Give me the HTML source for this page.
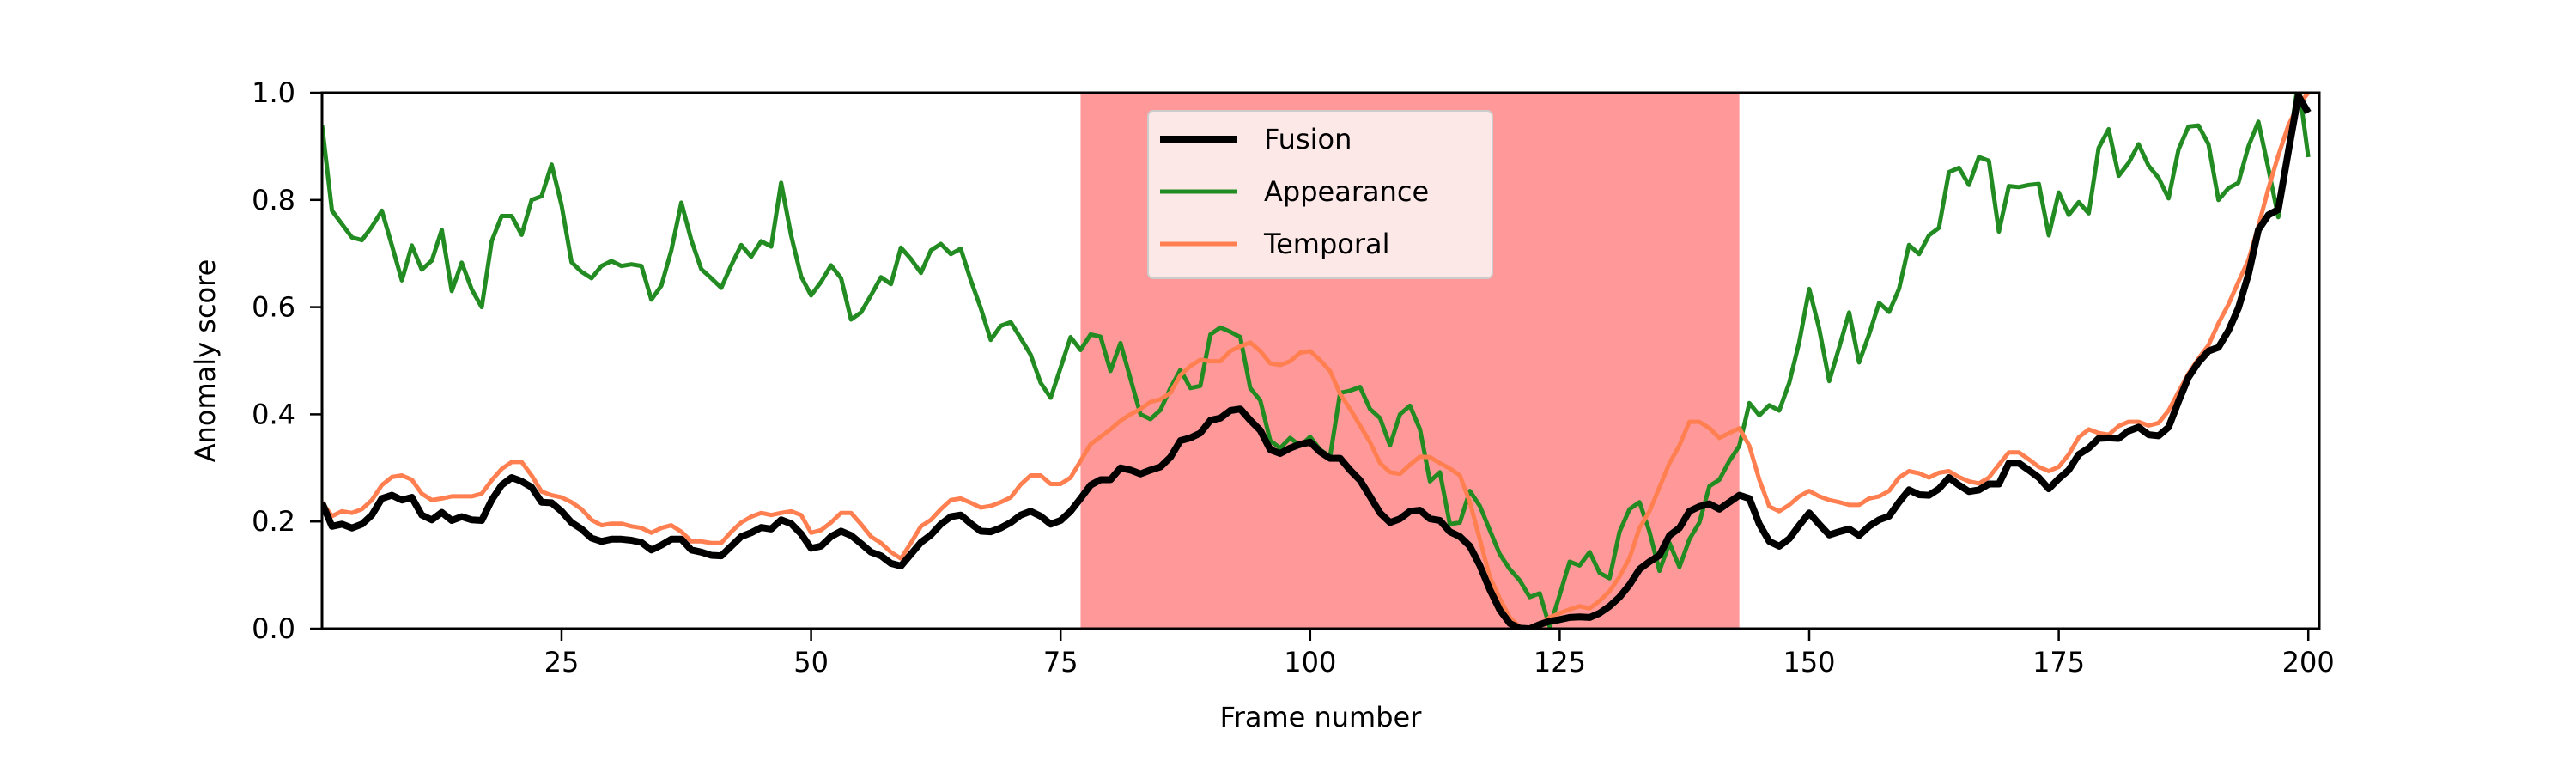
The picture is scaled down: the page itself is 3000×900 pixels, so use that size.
<!DOCTYPE html>
<html><head><meta charset="utf-8">
<style>
html,body{margin:0;padding:0;background:#fff;}
svg{display:block;font-family:"DejaVu Sans","Liberation Sans",sans-serif;}
</style></head>
<body>
<svg id="chart" width="3000" height="900" viewBox="0 0 3000 900" xmlns="http://www.w3.org/2000/svg"></svg>
<script>
const fusion=[0.235,0.191,0.195,0.188,0.195,0.212,0.243,0.249,0.24,0.245,0.212,0.203,0.217,0.202,0.209,0.203,0.202,0.24,0.268,0.282,0.275,0.264,0.236,0.235,0.219,0.198,0.186,0.169,0.163,0.167,0.167,0.165,0.161,0.147,0.156,0.167,0.167,0.147,0.143,0.137,0.136,0.154,0.172,0.179,0.189,0.186,0.203,0.196,0.177,0.15,0.154,0.172,0.182,0.174,0.159,0.143,0.136,0.122,0.117,0.139,0.161,0.175,0.195,0.209,0.212,0.196,0.182,0.181,0.188,0.198,0.212,0.219,0.21,0.195,0.202,0.219,0.243,0.268,0.278,0.278,0.3,0.296,0.289,0.296,0.302,0.32,0.351,0.356,0.365,0.389,0.393,0.407,0.41,0.389,0.37,0.334,0.327,0.337,0.344,0.348,0.33,0.318,0.318,0.296,0.277,0.247,0.216,0.198,0.205,0.219,0.221,0.205,0.202,0.181,0.172,0.154,0.118,0.073,0.035,0.01,0.001,0.0,0.008,0.014,0.017,0.021,0.022,0.021,0.029,0.042,0.059,0.082,0.111,0.125,0.137,0.174,0.188,0.219,0.228,0.233,0.223,0.236,0.249,0.243,0.195,0.163,0.154,0.168,0.193,0.216,0.195,0.175,0.181,0.186,0.174,0.191,0.203,0.21,0.236,0.259,0.25,0.249,0.261,0.282,0.268,0.256,0.259,0.27,0.27,0.309,0.309,0.296,0.282,0.261,0.28,0.296,0.325,0.337,0.355,0.356,0.355,0.369,0.376,0.362,0.36,0.376,0.424,0.469,0.497,0.518,0.525,0.556,0.598,0.661,0.744,0.772,0.782,0.89,0.994,0.963];
const appearance=[0.94,0.78,0.755,0.73,0.725,0.75,0.78,0.715,0.65,0.715,0.67,0.687,0.744,0.63,0.683,0.633,0.6,0.723,0.77,0.77,0.735,0.8,0.807,0.866,0.79,0.684,0.666,0.654,0.677,0.686,0.677,0.68,0.677,0.614,0.64,0.706,0.795,0.725,0.671,0.654,0.636,0.678,0.716,0.694,0.723,0.713,0.832,0.734,0.657,0.622,0.647,0.678,0.654,0.577,0.59,0.622,0.656,0.643,0.711,0.69,0.664,0.706,0.718,0.699,0.709,0.65,0.598,0.539,0.565,0.572,0.542,0.511,0.459,0.431,0.487,0.544,0.52,0.549,0.545,0.481,0.533,0.466,0.4,0.391,0.408,0.449,0.483,0.449,0.453,0.549,0.562,0.554,0.544,0.449,0.426,0.351,0.337,0.356,0.341,0.358,0.334,0.321,0.44,0.444,0.451,0.41,0.393,0.342,0.4,0.416,0.372,0.275,0.292,0.195,0.198,0.257,0.229,0.184,0.139,0.111,0.09,0.059,0.066,0.003,0.063,0.125,0.118,0.143,0.104,0.094,0.181,0.223,0.236,0.181,0.108,0.16,0.115,0.167,0.198,0.266,0.278,0.313,0.341,0.421,0.398,0.417,0.407,0.459,0.535,0.634,0.56,0.462,0.525,0.59,0.497,0.549,0.608,0.591,0.634,0.716,0.699,0.734,0.748,0.852,0.86,0.828,0.88,0.873,0.741,0.826,0.824,0.828,0.83,0.734,0.814,0.772,0.796,0.775,0.897,0.932,0.845,0.869,0.904,0.864,0.841,0.803,0.894,0.937,0.939,0.904,0.8,0.822,0.832,0.9,0.946,0.859,0.768,0.894,1.02,0.88];
const temporal=[0.236,0.21,0.219,0.216,0.223,0.24,0.268,0.283,0.286,0.278,0.252,0.24,0.243,0.247,0.247,0.247,0.252,0.277,0.298,0.311,0.311,0.286,0.256,0.249,0.245,0.236,0.223,0.203,0.193,0.196,0.196,0.191,0.188,0.179,0.188,0.193,0.181,0.163,0.163,0.16,0.16,0.181,0.198,0.209,0.216,0.212,0.216,0.219,0.212,0.179,0.184,0.198,0.216,0.216,0.195,0.172,0.16,0.143,0.131,0.16,0.191,0.203,0.223,0.24,0.243,0.235,0.226,0.229,0.236,0.245,0.269,0.286,0.286,0.27,0.27,0.282,0.313,0.344,0.358,0.372,0.388,0.4,0.41,0.423,0.428,0.44,0.473,0.49,0.502,0.499,0.499,0.518,0.527,0.534,0.518,0.495,0.492,0.499,0.515,0.518,0.501,0.481,0.438,0.41,0.379,0.348,0.309,0.292,0.289,0.306,0.321,0.32,0.309,0.299,0.286,0.236,0.167,0.097,0.056,0.021,0.003,0.001,0.008,0.021,0.029,0.036,0.042,0.038,0.052,0.07,0.097,0.132,0.188,0.219,0.264,0.309,0.342,0.386,0.386,0.374,0.356,0.365,0.374,0.341,0.278,0.228,0.219,0.231,0.247,0.257,0.247,0.24,0.236,0.231,0.231,0.243,0.247,0.257,0.282,0.294,0.29,0.282,0.291,0.294,0.283,0.275,0.271,0.282,0.306,0.329,0.329,0.316,0.302,0.294,0.302,0.325,0.357,0.372,0.365,0.362,0.378,0.386,0.386,0.379,0.384,0.407,0.442,0.476,0.504,0.529,0.57,0.605,0.647,0.688,0.751,0.821,0.883,0.939,0.977,1.0];
const xTicks=[25,50,75,100,125,150,175,200];
const yTicks=[0.0,0.2,0.4,0.6,0.8,1.0];
const anomalySpan=[77,143];

const svg=document.getElementById('chart');
const NS='http://www.w3.org/2000/svg';
const L=375,R=2701,T=108,B=732;
const X0=1,X1=201.1;
const sx=v=>L+(v-X0)/(X1-X0)*(R-L);
const sy=v=>B-v*(B-T);
function mk(tag,attrs,parent){const e=document.createElementNS(NS,tag);for(const k in attrs)e.setAttribute(k,attrs[k]);(parent||svg).appendChild(e);return e;}

const defs=mk('defs',{});
const cp=mk('clipPath',{id:'clip'},defs);
mk('rect',{x:L,y:T,width:R-L,height:B-T},cp);

const span=mk('rect',{x:sx(anomalySpan[0]),y:T,width:sx(anomalySpan[1])-sx(anomalySpan[0]),height:B-T,fill:'#ff9999'});



function line(data,color,w,name){
  const pts=data.map((v,i)=>sx(i+1).toFixed(1)+','+sy(v).toFixed(1)).join(' ');
  const p=mk('polyline',{points:pts,fill:'none',stroke:color,'stroke-width':w,'stroke-linejoin':'round','clip-path':'url(#clip)'});
  
  
}
line(appearance,'#228b22',5,'appearance-line');
line(temporal,'#ff7f50',5,'temporal-line');
line(fusion,'#000000',8,'fusion-line');

const frame=mk('rect',{x:L,y:T,width:R-L,height:B-T,fill:'none',stroke:'#000','stroke-width':3});



xTicks.forEach(t=>{
  const x=sx(t);
  const tk=mk('line',{x1:x,x2:x,y1:B,y2:B+14,stroke:'#000','stroke-width':2.5});
  
  
  const tx=mk('text',{x:x,y:B+50,'font-size':32,'text-anchor':'middle',fill:'#000'});
  tx.textContent=t;
  
  
});
yTicks.forEach(t=>{
  const y=sy(t);
  const tk=mk('line',{x1:L-14,x2:L,y1:y,y2:y,stroke:'#000','stroke-width':2.5});
  
  
  const tx=mk('text',{x:344,y:y+11,'font-size':32,'text-anchor':'end',fill:'#000'});
  tx.textContent=t.toFixed(1);
  
  
});
const xl=mk('text',{x:(L+R)/2,y:846,'font-size':32,'text-anchor':'middle',fill:'#000'});
xl.textContent='Frame number';


const yl=mk('text',{x:0,y:0,'font-size':32,'text-anchor':'middle',fill:'#000',transform:'translate(250,420) rotate(-90)'});
yl.textContent='Anomaly score';



const lg=mk('g',{});


mk('rect',{x:1337,y:129,width:401,height:195,rx:6,fill:'#fde8e8',stroke:'#cccccc','stroke-width':2},lg);
const entries=[['Fusion','#000',8],['Appearance','#228b22',5],['Temporal','#ff7f50',5]];
entries.forEach((e,i)=>{
  const y=162+i*61;
  const g=mk('g',{},lg);
  
  
  mk('line',{x1:1351,x2:1441,y1:y,y2:y,stroke:e[1],'stroke-width':e[2]},g);
  const t=mk('text',{x:1472,y:y+11,'font-size':32,fill:'#000'},g);
  t.textContent=e[0];
});
</script>
</body></html>
